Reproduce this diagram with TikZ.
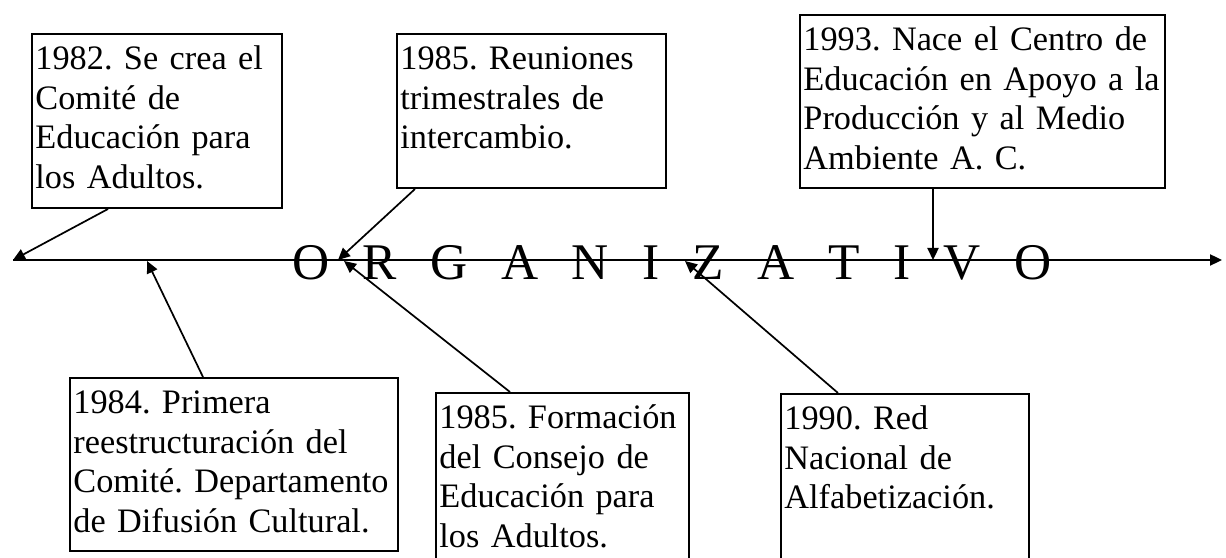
\documentclass[tikz,border=0pt]{standalone}
\usepackage{fontspec}
\setmainfont{Liberation Serif}
\usetikzlibrary{arrows.meta}
\newcommand{\espacio}{\hspace{11.7pt}}
\frenchspacing
\hyphenpenalty=10000

\begin{document}
\begin{tikzpicture}[x=0.35pt, y=-0.35pt, line width=0.7pt,
  evento/.style={draw, rectangle, anchor=north west, align=left, inner xsep=1.2pt, inner ysep=0pt, text height=12.6pt, font=\fontsize{12}{13.8}\selectfont},
  flecha/.style={-{Triangle[length=4.2pt,width=3.9pt]}, line width=0.6pt}]
  \clip (0,0) rectangle (1226,558);
  % Nodos
  \node[evento, text width=85.1pt, text depth=48.3pt] (a82) at (31,33) {1982. Se crea el\\Comité de\\Educación para\\los Adultos.};
  \node[evento, text width=91.75pt, text depth=41.3pt] (a85r) at (396,33) {1985. Reuniones\\trimestrales de\\intercambio.};
  \node[evento, text width=125.35pt, text depth=47.95pt] (a93) at (799,14) {1993. Nace el Centro de\\Educación en Apoyo a la\\Producción y al Medio\\Ambiente A. C.};
  \node[evento, text width=112.4pt, text depth=47.95pt] (a84) at (69,377) {1984. Primera\\reestructuración del\\Comité. Departamento\\de Difusión Cultural.};
  \node[evento, text width=86.15pt, text depth=49.7pt] (a85f) at (435,392) {1985. Formación\\del Consejo de\\Educación para\\los Adultos.};
  \node[evento, text width=84.4pt, text depth=49.35pt] (a90) at (780,393) {1990. Red\\Nacional de\\Alfabetización.};

  % Linea de tiempo
  \coordinate (inicio) at (13,260);
  \coordinate (fin) at (1222,260);
  \coordinate (t84) at (147,261);
  \coordinate (t85r) at (338,260);
  \coordinate (t85f) at (344,261);
  \coordinate (t90) at (685,261);
  \coordinate (t93) at (933,260);
  \draw[flecha] (inicio) -- (fin);
  \node[anchor=base, inner sep=0pt, font=\fontsize{18}{21}\selectfont] (titulo) at (672,280)
    {O\espacio R\espacio G\espacio A\espacio N\espacio I\espacio Z\espacio A\espacio T\espacio I\espacio V\espacio O};

  % Flechas
  \draw[flecha] ([xshift=26.95pt]a82.south west) -- (inicio);
  \draw[flecha] ([xshift=6.65pt]a85r.south west) -- (t85r);
  \draw[flecha] ([xshift=46.9pt]a93.south west) -- (t93);
  \draw[flecha] ([xshift=46.9pt]a84.north west) -- (t84);
  \draw[flecha] ([xshift=26.25pt]a85f.north west) -- (t85f);
  \draw[flecha] ([xshift=20.3pt]a90.north west) -- (t90);
\end{tikzpicture}
\end{document}
